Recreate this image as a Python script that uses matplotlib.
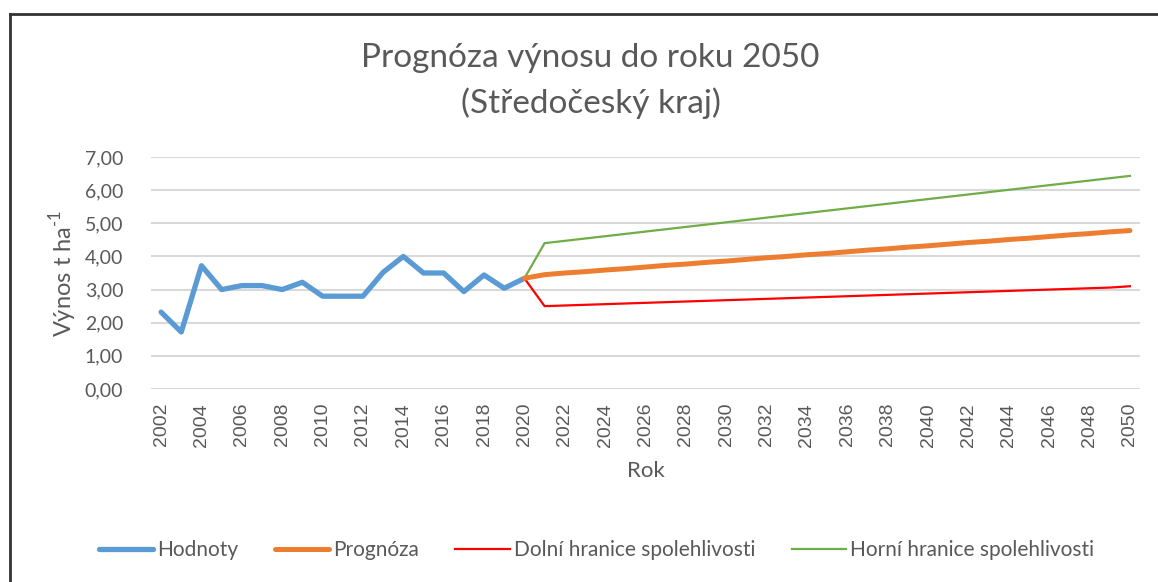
import matplotlib.pyplot as plt
from matplotlib.lines import Line2D

plt.rcParams['font.family'] = ['Lato', 'DejaVu Sans']
plt.rcParams['mathtext.fontset'] = 'custom'
plt.rcParams['mathtext.rm'] = 'Lato'

# hodnoty 2002-2020
roky = list(range(2002, 2021))
hodnoty = [2.32, 1.72, 3.72, 3.00, 3.12, 3.12, 3.00, 3.22, 2.80, 2.80,
           2.80, 3.52, 4.00, 3.50, 3.50, 2.94, 3.44, 3.04, 3.34]

# prognoza 2020-2050
roky_p = list(range(2020, 2051))
prognoza = [3.34, 3.45, 3.50, 3.54, 3.59, 3.63, 3.68, 3.73, 3.77, 3.82, 3.86,
            3.91, 3.96, 4.00, 4.05, 4.09, 4.14, 4.19, 4.23, 4.28, 4.32,
            4.37, 4.42, 4.46, 4.51, 4.55, 4.60, 4.65, 4.69, 4.74, 4.78]
dolni = [3.34, 2.50, 2.52, 2.54, 2.56, 2.58, 2.60, 2.62, 2.64, 2.66, 2.68,
         2.70, 2.72, 2.74, 2.76, 2.78, 2.80, 2.82, 2.84, 2.86, 2.88,
         2.90, 2.92, 2.94, 2.96, 2.98, 3.00, 3.02, 3.04, 3.06, 3.10]
horni = [3.34, 4.40, 4.47, 4.54, 4.61, 4.68, 4.75, 4.82, 4.89, 4.96, 5.03,
         5.10, 5.17, 5.24, 5.31, 5.38, 5.45, 5.52, 5.59, 5.66, 5.73,
         5.80, 5.87, 5.94, 6.01, 6.08, 6.15, 6.22, 6.29, 6.36, 6.43]

seda = '#595959'

fig = plt.figure(figsize=(11.58, 5.82), dpi=100)
ax = fig.add_axes([151 / 1158, 1 - 389 / 582, (1140 - 151) / 1158, (389 - 157) / 582])

ax.plot(roky, hodnoty, color='#5B9BD5', lw=3.8, solid_joinstyle='round', solid_capstyle='round', label='Hodnoty', zorder=3)
ax.plot(roky_p, prognoza, color='#ED7D31', lw=3.6, solid_capstyle='round', label='Prognóza', zorder=4)
ax.plot(roky_p, dolni, color='#FF0000', lw=1.6, label='Dolní hranice spolehlivosti', zorder=3)
ax.plot(roky_p, horni, color='#70AD47', lw=1.6, label='Horní hranice spolehlivosti', zorder=3)

ax.set_xlim(2001.5, 2050.5)
ax.set_ylim(0, 7)
ax.set_yticks(range(0, 8))
ax.set_yticklabels(['%d,00' % v for v in range(0, 8)])
ax.set_xticks(range(2002, 2051, 2))
ax.set_xticklabels([str(r) for r in range(2002, 2051, 2)], rotation=90, family=['Liberation Sans'])
ax.tick_params(length=0, colors=seda, labelsize=14)
ax.tick_params(axis='y', pad=20)
ax.tick_params(axis='x', pad=10)
ax.grid(axis='y', color='#D9D9D9', lw=1.5)
ax.set_axisbelow(True)
for s in ax.spines.values():
    s.set_visible(False)

ax.set_xlabel('Rok', color=seda, fontsize=16, labelpad=10)
ax.set_ylabel(r'Výnos t ha$^{\text{-}1}$', color=seda, fontsize=17, labelpad=4)

fig.text(0.51, 1 - 58 / 582, 'Prognóza výnosu do roku 2050', ha='center', va='center', fontsize=24, color=seda)
fig.text(0.51, 1 - 103 / 582, '(Středočeský kraj)', ha='center', va='center', fontsize=24, color=seda)

fig.legend(loc='center', bbox_to_anchor=(0.515, 1 - 550 / 582), ncol=4, frameon=False,
           fontsize=15, labelcolor=seda, handlelength=2.6, handletextpad=0.2, columnspacing=1.75)

# ramecek grafu
fig.add_artist(Line2D([10 / 1158, 10 / 1158], [0, 1 - 14 / 582], transform=fig.transFigure, color='#333333', lw=2))
fig.add_artist(Line2D([10 / 1158, 1], [1 - 14 / 582, 1 - 14 / 582], transform=fig.transFigure, color='#333333', lw=2))

fig.savefig('out.png', dpi=100)
